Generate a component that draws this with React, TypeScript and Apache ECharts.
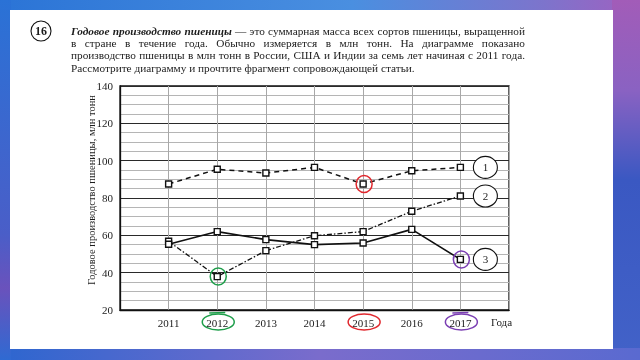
import React, { useEffect, useRef } from "react";
import * as echarts from "echarts";

const years = [2011, 2012, 2013, 2014, 2015, 2016, 2017];
const series1 = [87.5, 95.4, 93.4, 96.4, 87.5, 94.6, 96.4];
const series2 = [56.8, 37.9, 51.8, 59.8, 62.0, 72.9, 81.1];
const series3 = [55.2, 62.0, 57.7, 55.0, 55.9, 63.2, 47.1];
const seriesNames = ["1", "2", "3"];
const yMin = 20;
const yMax = 140;
const yStep = 20;
const xName = "Года";
const yName = "Годовое производство пшеницы, млн тонн";

const textLines: { t: string; b?: boolean }[][] = [
  [
    { t: "Годовое производство пшеницы", b: true },
    { t: "— это суммарная масса всех сортов пшеницы, выращенной" },
  ],
  [{ t: "в стране в течение года. Обычно измеряется в млн тонн. На диаграмме показано" }],
  [{ t: "производство пшеницы в млн тонн в России, США и Индии за семь лет начиная с 2011 года." }],
  [{ t: "Рассмотрите диаграмму и прочтите фрагмент сопровождающей статьи." }],
];

const SERIF = '"Liberation Serif", "Times New Roman", serif';
const INK = "#1c1c1c";

export default function App() {
  const ref = useRef<HTMLDivElement>(null);
  useEffect(() => {
    if (!ref.current) return;
    const chart = echarts.init(ref.current, null, { renderer: "svg" });
    const mk = (arr: number[]) => years.map((y, i) => [y, arr[i]]);
    const markerStyle = { color: "#fff", borderColor: "#111", borderWidth: 1.4 };
    chart.setOption({
      animation: false,
      grid: { left: 120, top: 86, width: 389, height: 224, show: true, borderColor: "#111", borderWidth: 1.3, backgroundColor: "transparent", z: 5 },
      xAxis: {
        type: "value", min: 2010, max: 2018, interval: 1,
        axisLine: { show: true, lineStyle: { color: "#111", width: 1.3 } },
        axisTick: { show: false },
        axisLabel: {
          formatter: (v: number) => (v === 2010 || v === 2018 ? "" : String(v)),
          fontFamily: SERIF, fontSize: 11, color: INK, margin: 7,
        },
        splitLine: { show: true, lineStyle: { color: "#a8a8a8", width: 1 } },
        z: 5,
      },
      yAxis: {
        type: "value", min: yMin, max: yMax, interval: yStep,
        axisLine: { show: true, lineStyle: { color: "#111", width: 1.3 } },
        axisTick: { show: false },
        axisLabel: { fontFamily: SERIF, fontSize: 11, color: INK, margin: 7 },
        splitLine: { show: true, lineStyle: { color: "#2a2a2a", width: 1.2 } },
        minorTick: { show: false, splitNumber: 4 },
        minorSplitLine: { show: true, lineStyle: { color: "#b5b5b5", width: 1 } },
        z: 5,
      },
      series: [
        { name: seriesNames[0], type: "line", data: mk(series1), symbol: "rect", symbolSize: 6, itemStyle: markerStyle, lineStyle: { color: "#111", width: 1.5, type: [5, 4] }, z: 10 },
        { name: seriesNames[1], type: "line", data: mk(series2), symbol: "rect", symbolSize: 6, itemStyle: markerStyle, lineStyle: { color: "#111", width: 1.3, type: [5, 2, 1.5, 2] }, z: 10 },
        { name: seriesNames[2], type: "line", data: mk(series3), symbol: "rect", symbolSize: 6, itemStyle: markerStyle, lineStyle: { color: "#111", width: 1.6 }, z: 10 },
      ],
    });

    const px = (x: number, y: number) => chart.convertToPixel({ gridIndex: 0 }, [x, y]) as number[];
    const g: any[] = [];
    const lin = (x: number, y: number, x2: number, y2: number, stops: [number, string][]) => ({
      type: "linear", x, y, x2, y2, colorStops: stops.map(([offset, color]) => ({ offset, color })),
    });
    // background
    g.push({ type: "rect", z: -20, shape: { x: 0, y: 0, width: 640, height: 360 }, style: { fill: lin(0, 0, 1, 1, [[0, "#2a72d6"], [0.5, "#3f6fd2"], [1, "#5a62c8"]]) } });
    g.push({ type: "rect", z: -19, shape: { x: 0, y: 0, width: 640, height: 11 }, style: { fill: lin(0, 0, 1, 0, [[0, "#2b74d6"], [0.55, "#4a8fe0"], [0.85, "#7d74cc"], [1, "#a060c0"]]) } });
    g.push({ type: "rect", z: -19, shape: { x: 612, y: 0, width: 28, height: 360 }, style: { fill: lin(0, 0, 0, 1, [[0, "#a25cb8"], [0.25, "#8a62c2"], [0.5, "#3a58c2"], [1, "#4262c8"]]) } });
    g.push({ type: "rect", z: -19, shape: { x: 0, y: 348, width: 640, height: 12 }, style: { fill: lin(0, 0, 1, 0, [[0, "#2d66cf"], [0.5, "#7a6ccc"], [1, "#5a6ad0"]]) } });
    g.push({ type: "rect", z: -19, shape: { x: 0, y: 0, width: 11, height: 360 }, style: { fill: lin(0, 0, 0, 1, [[0, "#2a72d6"], [0.65, "#4a5ec8"], [0.8, "#6a52bc"], [1, "#2f6ad2"]]) } });
    // white panel
    g.push({ type: "rect", z: -18, shape: { x: 10, y: 10, width: 603, height: 339 }, style: { fill: "#ffffff" } });

    // question number
    g.push({ type: "ellipse", z: 20, shape: { cx: 41, cy: 31, rx: 10, ry: 10 }, style: { fill: "none", stroke: "#111", lineWidth: 1.1 } });
    g.push({ type: "text", z: 20, style: { x: 41, y: 31, text: "16", align: "center", verticalAlign: "middle", fontFamily: SERIF, fontSize: 12, fontWeight: "bold", fill: INK } });

    // paragraph text, justified word by word
    const ctx = document.createElement("canvas").getContext("2d")!;
    const fontStr = (fs: number, b?: boolean) => `${b ? "italic bold " : ""}${fs}px ${SERIF}`;
    const measure = (t: string, fs: number, b?: boolean) => { ctx.font = fontStr(fs, b); return ctx.measureText(t).width; };
    const left = 71, right = 525;
    const lastNatural = measure(textLines[3][0].t, 12);
    const fs = Math.max(10, Math.min(13, 12 * (415 - left) / lastNatural));
    textLines.forEach((line, li) => {
      const y = 31 + li * 12.2;
      const words: { t: string; b?: boolean }[] = [];
      line.forEach((seg) => seg.t.split(" ").forEach((w) => words.push({ t: w, b: seg.b })));
      const widths = words.map((w) => measure(w.t, fs, w.b));
      const total = widths.reduce((a, b) => a + b, 0);
      const justify = li < 3;
      const gap = justify ? (right - left - total) / (words.length - 1) : measure(" ", fs);
      let x = left;
      words.forEach((w, i) => {
        g.push({ type: "text", z: 20, style: { x, y, text: w.t, align: "left", verticalAlign: "middle", fontFamily: SERIF, fontSize: fs, fontWeight: w.b ? "bold" : "normal", fontStyle: w.b ? "italic" : "normal", fill: INK } });
        x += widths[i] + gap;
      });
    });

    // y axis name
    const top = px(2010, yMax), bot = px(2010, yMin);
    g.push({ type: "text", z: 20, x: 91, y: (top[1] + bot[1]) / 2 - 8, rotation: Math.PI / 2, style: { x: 0, y: 0, text: yName, align: "center", verticalAlign: "middle", fontFamily: SERIF, fontSize: 10.5, fill: INK } });
    // x axis name
    const rb = px(2018, yMin);
    g.push({ type: "text", z: 20, style: { x: rb[0] - 18, y: rb[1] + 12, text: xName, align: "left", verticalAlign: "middle", fontFamily: SERIF, fontSize: 11, fill: INK } });

    // series number labels
    const lastIdx = years.length - 1;
    [series1, series2, series3].forEach((s, i) => {
      const p = px(years[lastIdx], s[lastIdx]);
      g.push({ type: "ellipse", z: 20, shape: { cx: p[0] + 25, cy: p[1], rx: 12, ry: 11 }, style: { fill: "#fff", stroke: "#111", lineWidth: 1.1 } });
      g.push({ type: "text", z: 21, style: { x: p[0] + 25, y: p[1], text: seriesNames[i], align: "center", verticalAlign: "middle", fontFamily: SERIF, fontSize: 11, fill: INK } });
    });

    // hand-drawn highlights
    const marks: [number, number[], string][] = [
      [1, series2, "#1e9e4a"],
      [4, series1, "#e0282e"],
      [6, series3, "#7b3fb3"],
    ];
    marks.forEach(([idx, s, col]) => {
      const p = px(years[idx], s[idx]);
      g.push({ type: "ellipse", z: 30, shape: { cx: p[0] + 1, cy: p[1], rx: 8, ry: 8.5 }, style: { fill: "none", stroke: col, lineWidth: 1.5 } });
      const q = px(years[idx], yMin);
      g.push({ type: "ellipse", z: 30, shape: { cx: q[0] + 1, cy: q[1] + 12, rx: 16, ry: 8 }, style: { fill: "none", stroke: col, lineWidth: 1.5 } });
      if (col !== "#e0282e") {
        g.push({ type: "line", z: 30, shape: { x1: q[0] - 8, y1: q[1] + 3, x2: q[0] + 8, y2: q[1] + 2.5 }, style: { stroke: col, lineWidth: 1.3 } });
      }
    });

    chart.setOption({ graphic: g });
    return () => chart.dispose();
  }, []);
  return <div ref={ref} style={{ position: "fixed", left: 0, top: 0, width: 640, height: 360 }} />;
}
